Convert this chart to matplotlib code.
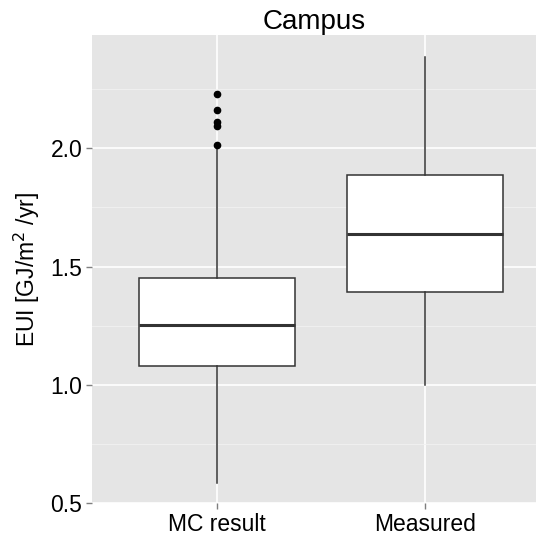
import matplotlib.pyplot as plt
from matplotlib.ticker import MultipleLocator

plt.rcParams['font.family'] = ['Liberation Sans', 'DejaVu Sans']

groups = ['MC result', 'Measured']
whislo = [0.585, 0.998]
q1 = [1.078, 1.394]
med = [1.252, 1.638]
q3 = [1.451, 1.886]
whishi = [2.000, 2.384]
fliers = [[2.014, 2.095, 2.11, 2.162, 2.231], []]
yticks = [0.5, 1.0, 1.5, 2.0]

stats = []
for i in range(len(groups)):
    stats.append(dict(label=groups[i], whislo=whislo[i], q1=q1[i], med=med[i],
                      q3=q3[i], whishi=whishi[i], fliers=fliers[i]))

fig = plt.figure(figsize=(5.36, 5.37), dpi=100)
# panel runs off the right edge in the original, so axes goes to 1.0
ax = fig.add_axes([92 / 536, 34 / 537, 444 / 536, 468 / 537])
ax.set_facecolor('#e5e5e5')

line = dict(color='#333333', linewidth=1.1)
ax.bxp(stats, positions=[1, 2], widths=0.75, patch_artist=True,
       showcaps=False,
       boxprops=dict(facecolor='white', edgecolor='#333333', linewidth=1.1),
       whiskerprops=line,
       medianprops=dict(color='#333333', linewidth=2.2),
       flierprops=dict(marker='o', markerfacecolor='black', markeredgecolor='black',
                       markersize=4.5, linestyle='none'),
       zorder=3)

ax.set_xlim(0.4, 2.535)
ax.set_ylim(0.5, 2.479)
ax.set_yticks(yticks)
ax.set_yticklabels([f'{v:.1f}' for v in yticks])
ax.yaxis.set_minor_locator(MultipleLocator(0.25))
ax.grid(which='major', color='white', linewidth=1.2, zorder=0)
ax.grid(which='minor', axis='y', color='#f2f2f2', linewidth=0.6, zorder=0)
ax.set_axisbelow(True)
for s in ax.spines.values():
    s.set_visible(False)

ax.set_xticks([1, 2])
ax.set_xticklabels(groups)
ax.tick_params(which='major', length=4, color='#7f7f7f', width=1, labelsize=16.5,
               labelcolor='black', pad=3)
ax.tick_params(which='minor', length=0)

ax.set_ylabel('EUI [GJ/m$^2$ /yr]', fontsize=16.5, labelpad=6)
ax.set_title('Campus', fontsize=20, pad=4)

fig.savefig('out.png', dpi=100)
